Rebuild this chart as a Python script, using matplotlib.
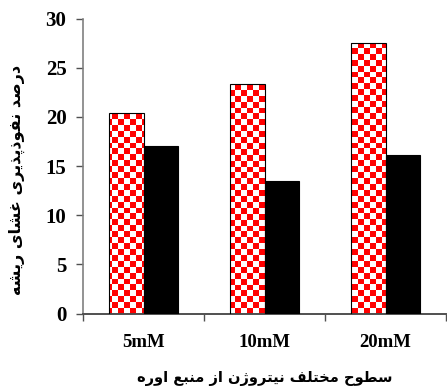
import numpy as np
import matplotlib
matplotlib.use('Agg')
import matplotlib.pyplot as plt

# data
categories = ['5mM', '10mM', '20mM']
checker_vals = [20.4, 23.4, 27.5]
black_vals = [17.0, 13.5, 16.1]
xlabel_fa = 'سطوح مختلف نیتروژن از منبع اوره'
ylabel_fa = 'درصد نفوذپذیری غشای ریشه'

# presentation forms: isolated, final, initial, medial (None = does not join left)
FORMS = {
    'ا': ('\uFE8D', '\uFE8E', None, None),
    'ب': ('\uFE8F', '\uFE90', '\uFE91', '\uFE92'),
    'پ': ('\uFB56', '\uFB57', '\uFB58', '\uFB59'),
    'ت': ('\uFE95', '\uFE96', '\uFE97', '\uFE98'),
    'ح': ('\uFEA1', '\uFEA2', '\uFEA3', '\uFEA4'),
    'خ': ('\uFEA5', '\uFEA6', '\uFEA7', '\uFEA8'),
    'د': ('\uFEA9', '\uFEAA', None, None),
    'ذ': ('\uFEAB', '\uFEAC', None, None),
    'ر': ('\uFEAD', '\uFEAE', None, None),
    'ز': ('\uFEAF', '\uFEB0', None, None),
    'ژ': ('\uFB8A', '\uFB8B', None, None),
    'س': ('\uFEB1', '\uFEB2', '\uFEB3', '\uFEB4'),
    'ش': ('\uFEB5', '\uFEB6', '\uFEB7', '\uFEB8'),
    'ص': ('\uFEB9', '\uFEBA', '\uFEBB', '\uFEBC'),
    'ط': ('\uFEC1', '\uFEC2', '\uFEC3', '\uFEC4'),
    'ع': ('\uFEC9', '\uFECA', '\uFECB', '\uFECC'),
    'غ': ('\uFECD', '\uFECE', '\uFECF', '\uFED0'),
    'ف': ('\uFED1', '\uFED2', '\uFED3', '\uFED4'),
    'ل': ('\uFEDD', '\uFEDE', '\uFEDF', '\uFEE0'),
    'م': ('\uFEE1', '\uFEE2', '\uFEE3', '\uFEE4'),
    'ن': ('\uFEE5', '\uFEE6', '\uFEE7', '\uFEE8'),
    'ه': ('\uFEE9', '\uFEEA', '\uFEEB', '\uFEEC'),
    'و': ('\uFEED', '\uFEEE', None, None),
    'ی': ('\uFBFC', '\uFBFD', '\uFBFE', '\uFBFF'),
}


def joins_left(c):
    return c in FORMS and FORMS[c][2] is not None


def shape(txt):
    out = []
    for i, c in enumerate(txt):
        if c not in FORMS:
            out.append(c)
            continue
        prev = txt[i - 1] if i > 0 else ''
        nxt = txt[i + 1] if i + 1 < len(txt) else ''
        p = joins_left(prev)
        n = joins_left(c) and nxt in FORMS
        f = FORMS[c]
        if p and n:
            out.append(f[3])
        elif p:
            out.append(f[1])
        elif n:
            out.append(f[2])
        else:
            out.append(f[0])
    return ''.join(out)[::-1]


fig = plt.figure(figsize=(4.47, 3.89), dpi=100)
ax = fig.add_axes([0.186, 0.194, 0.812, 0.758])

x = np.arange(len(categories))
w = 0.284
b1 = ax.bar(x - w / 2, checker_vals, w, color='white', edgecolor='black',
            linewidth=0.8, zorder=2)
b2 = ax.bar(x + w / 2, black_vals, w, color='black', edgecolor='black',
            linewidth=0.8, zorder=3)

ax.set_xlim(-0.5, 2.5)
ax.set_ylim(0, 30)

# red/white checkerboard fill, clipped to each bar
bb = ax.get_position()
wpx = bb.width * fig.get_figwidth() * fig.dpi
hpx = bb.height * fig.get_figheight() * fig.dpi
cell = 5.8
nc, nr = int(wpx / cell), int(hpx / cell)
ii, jj = np.indices((nr, nc))
chk = np.zeros((nr, nc, 3))
chk[:] = 1.0
red = (ii + jj) % 2 == 1
chk[red] = [1.0, 0.0, 0.0]
for p in b1:
    im = ax.imshow(chk, extent=(-0.5, 2.5, 0, 30), aspect='auto',
                   interpolation='nearest', origin='upper', zorder=2.5)
    im.set_clip_path(p)
    p.set_facecolor('none')
    p.set_zorder(2.6)
ax.set_aspect('auto')
ax.set_xlim(-0.5, 2.5)
ax.set_ylim(0, 30)

for s in ['top', 'right']:
    ax.spines[s].set_visible(False)
ax.spines['left'].set_color('#808080')
ax.spines['left'].set_linewidth(1.2)
ax.spines['bottom'].set_color('#505050')
ax.spines['bottom'].set_linewidth(1.4)

ax.set_yticks([0, 5, 10, 15, 20, 25, 30])
ax.tick_params(axis='y', length=5, width=1.0, color='#505050', pad=7,
               labelsize=15)
ax.set_xticks(x)
ax.set_xticklabels(categories)
ax.set_xticks([-0.5, 0.5, 1.5, 2.5], minor=True)
ax.tick_params(axis='x', which='major', length=0, pad=15, labelsize=13.5)
ax.tick_params(axis='x', which='minor', length=5, width=1.0, color='#505050')
for lab in ax.get_xticklabels() + ax.get_yticklabels():
    lab.set_family('Liberation Serif')
    lab.set_fontweight('bold')

ax.set_xlabel(shape(xlabel_fa), family=['DejaVu Sans'], fontweight='bold',
              fontsize=10.5)
ax.xaxis.set_label_coords(0.5, -0.196)
ax.set_ylabel(shape(ylabel_fa), family=['DejaVu Sans'], fontweight='bold',
              fontsize=11.5)
ax.yaxis.set_label_coords(-0.159, 0.453)

plt.savefig('out.png', dpi=100)
